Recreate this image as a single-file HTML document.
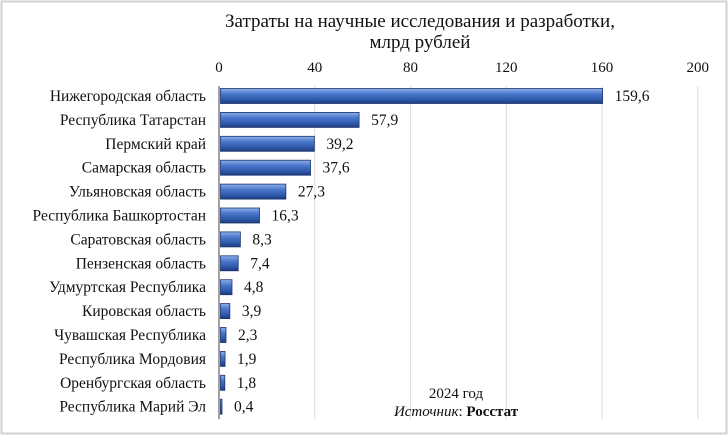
<!DOCTYPE html>
<html><head><meta charset="utf-8"><style>
body{margin:0;background:#fff;}
svg{display:block;font-family:"Liberation Serif","DejaVu Serif",serif;}
</style></head><body>
<svg id="c" width="728" height="436">
<defs>
<linearGradient id="g" x1="0" y1="0" x2="0" y2="1">
<stop offset="0" stop-color="#8fb0e8"/><stop offset="0.35" stop-color="#4a78cc"/><stop offset="0.75" stop-color="#2e57a8"/><stop offset="1" stop-color="#1c3a7a"/>
</linearGradient>
</defs>
<rect x="1.5" y="1.5" width="725" height="432" fill="#fff" stroke="#d0d0d0" stroke-width="2"/>
<text x="420" y="27" text-anchor="middle" font-size="19" fill="#111">Затраты на научные исследования и разработки,</text>
<text x="420" y="48" text-anchor="middle" font-size="19" fill="#111">млрд рублей</text>
<g id="grid"></g><g id="bars"></g>
<text x="456" y="398" text-anchor="middle" font-size="15" fill="#111">2024 год</text>
<text x="456" y="416" text-anchor="middle" font-size="15" fill="#111"><tspan font-style="italic">Источник</tspan>: <tspan font-weight="bold">Росстат</tspan></text>
</svg>
<script>
const categories=["Нижегородская область","Республика Татарстан","Пермский край","Самарская область","Ульяновская область","Республика Башкортостан","Саратовская область","Пензенская область","Удмуртская Республика","Кировская область","Чувашская Республика","Республика Мордовия","Оренбургская область","Республика Марий Эл"];
const values=[159.6,57.9,39.2,37.6,27.3,16.3,8.3,7.4,4.8,3.9,2.3,1.9,1.8,0.4];
const labels=["159,6","57,9","39,2","37,6","27,3","16,3","8,3","7,4","4,8","3,9","2,3","1,9","1,8","0,4"];
const ticks=[0,40,80,120,160,200];
const NS="http://www.w3.org/2000/svg";
const x0=219,k=2.394,y0=96,step=23.9,bh=15;
const X=v=>x0+v*k, Y=i=>y0+i*step;
function mk(t,a,p){const e=document.createElementNS(NS,t);for(const n in a)e.setAttribute(n,a[n]);p.appendChild(e);return e;}
const grid=document.getElementById('grid'),bars=document.getElementById('bars');
ticks.forEach(t=>{
 if(t>0){const l=mk('line',{x1:X(t),x2:X(t),y1:86,y2:419,stroke:'#dcdcdc','stroke-width':1},grid);
 
 }
 const tx=mk('text',{x:X(t),y:72,'text-anchor':'middle','font-size':15,fill:'#111'},grid);tx.textContent=t;
 
 
});
const ax=mk('line',{x1:x0,x2:x0,y1:86,y2:419,stroke:'#a0a0a0','stroke-width':2},grid);


categories.forEach((c,i)=>{
 const y=Y(i);
 const t=mk('text',{x:206,y:y+5,'text-anchor':'end','font-size':15.5,fill:'#111'},bars);t.textContent=c;
 
 
 const w=Math.max(values[i]*k,1.5);
 const r=mk('rect',{x:x0+1.5,y:y-bh/2,width:w,height:bh,fill:'url(#g)',stroke:'#1a3470','stroke-width':0.8},bars);
 
 
 const v=mk('text',{x:x0+1.5+w+12,y:y+5,'font-size':15.5,fill:'#111'},bars);v.textContent=labels[i];
 
 
});
</script>
</body></html>
